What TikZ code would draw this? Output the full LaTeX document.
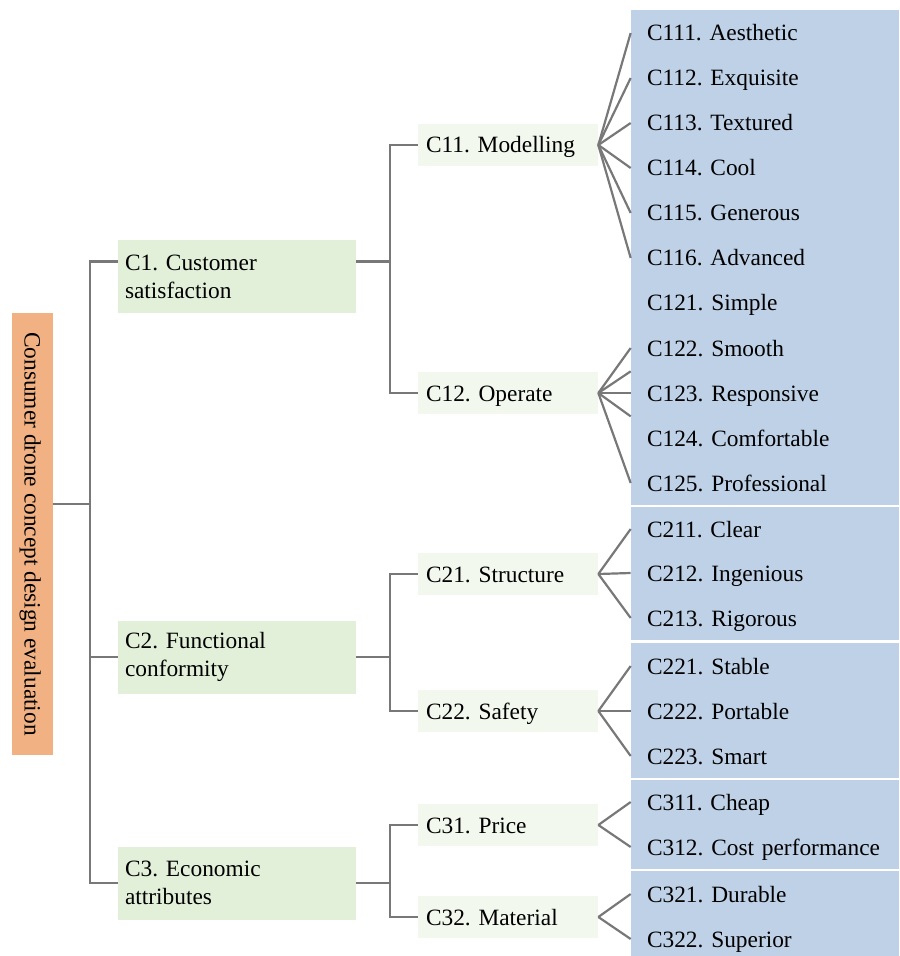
\documentclass[tikz,border=0pt]{standalone}
\usepackage{fontspec}
\setmainfont{Liberation Serif}
\usepackage{tikz}
\usetikzlibrary{positioning}

\definecolor{rootorange}{RGB}{241,177,131}
\definecolor{critgreen}{RGB}{226,240,217}
\definecolor{subgreen}{RGB}{242,248,237}
\definecolor{leafblue}{RGB}{190,209,231}
\definecolor{linkgray}{RGB}{120,120,120}

\frenchspacing

\begin{document}
\begin{tikzpicture}[
  x=0.02cm, y=-0.02cm,
  every node/.style={font=\fontsize{13.3}{16}\selectfont, inner sep=0pt},
  goal/.style={fill=rootorange, minimum width=8.84cm, minimum height=0.82cm, rotate=-90, text height=3.9mm, text depth=0.7mm},
  crit/.style={fill=critgreen, minimum width=4.76cm, minimum height=1.46cm, text width=4.48cm, align=left},
  subcrit/.style={fill=subgreen, minimum width=3.6cm, minimum height=0.84cm, text width=3.28cm, align=left, text height=3.9mm, text depth=0.7mm},
  leaf/.style={fill=leafblue, minimum width=5.36cm, minimum height=0.92cm, text width=4.72cm, align=left, text height=3.9mm, text depth=0.7mm},
  link/.style={draw=linkgray, line width=1.25pt},
  gap/.style={draw=white, line width=1.2pt}
]
\useasboundingbox (0,0) rectangle (899,956);

% Goal
\node[goal] (root) at (32.5,534) {Consumer drone concept design evaluation};

% Criteria
\node[crit] (c1) at (237,276.5) {C1. Customer\\satisfaction};
\node[crit] (c2) at (237,657) {C2. Functional\\conformity};
\node[crit] (c3) at (237,883) {C3. Economic\\attributes};

% Sub-criteria
\node[subcrit] (c11) at (508,145) {C11. Modelling};
\node[subcrit] (c12) at (508,393) {C12. Operate};
\node[subcrit] (c21) at (508,574) {C21. Structure};
\node[subcrit] (c22) at (508,711) {C22. Safety};
\node[subcrit] (c31) at (508,825) {C31. Price};
\node[subcrit] (c32) at (508,917) {C32. Material};

% Indicators
\node[leaf] (l111) at (765,33) {C111. Aesthetic};
\node[leaf] (l112) at (765,78) {C112. Exquisite};
\node[leaf] (l113) at (765,123) {C113. Textured};
\node[leaf] (l114) at (765,168) {C114. Cool};
\node[leaf] (l115) at (765,213) {C115. Generous};
\node[leaf] (l116) at (765,258) {C116. Advanced};
\node[leaf] (l121) at (765,303) {C121. Simple};
\node[leaf] (l122) at (765,348) {C122. Smooth};
\node[leaf] (l123) at (765,393) {C123. Responsive};
\node[leaf] (l124) at (765,438) {C124. Comfortable};
\node[leaf] (l125) at (765,483) {C125. Professional};
\node[leaf] (l211) at (765,529) {C211. Clear};
\node[leaf] (l212) at (765,573) {C212. Ingenious};
\node[leaf] (l213) at (765,618) {C213. Rigorous};
\node[leaf] (l221) at (765,666) {C221. Stable};
\node[leaf] (l222) at (765,711) {C222. Portable};
\node[leaf] (l223) at (765,756) {C223. Smart};
\node[leaf] (l311) at (765,802) {C311. Cheap};
\node[leaf] (l312) at (765,847) {C312. Cost performance};
\node[leaf] (l321) at (765,894) {C321. Durable};
\node[leaf] (l322) at (765,939) {C322. Superior};

% white gaps between the groups
\draw[gap] (l125.south west) -- (l125.south east);
\draw[gap] (l213.south west) -- (l213.south east);
\draw[gap] (l223.south west) -- (l223.south east);
\draw[gap] (l312.south west) -- (l312.south east);

% Trunk
\coordinate (j0) at (90,504);
\draw[link] (j0 -| root.north) -- (j0);
\draw[link] (j0) |- ([yshift=0.3cm]c1.west);
\draw[link] (j0) |- (c2.west);
\draw[link] (j0) |- (c3.west);

% Branches
\draw[link] ([yshift=0.3cm]c1.east) -- ++(34,0) coordinate (j1);
\draw[link] (j1) |- (c11.west);
\draw[link] (j1) |- (c12.west);
\draw[link] (c2.east) -- ++(34,0) coordinate (j2);
\draw[link] (j2) |- (c21.west);
\draw[link] (j2) |- (c22.west);
\draw[link] (c3.east) -- ++(34,0) coordinate (j3);
\draw[link] (j3) |- (c31.west);
\draw[link] (j3) |- (c32.west);

% Fans
\foreach \k in {111,...,116} \draw[link] (c11.east) -- (l\k.west);
\draw[link] (c12.east) -- (l122.west);
\draw[link] (c12.east) -- (l122.south west);
\draw[link] (c12.east) -- (l123.west);
\draw[link] (c12.east) -- (l123.south west);
\draw[link] (c12.east) -- (l125.west);
\foreach \k in {211,212,213} \draw[link] (c21.east) -- (l\k.west);
\foreach \k in {221,222,223} \draw[link] (c22.east) -- (l\k.west);
\foreach \k in {311,312} \draw[link] (c31.east) -- (l\k.west);
\foreach \k in {321,322} \draw[link] (c32.east) -- (l\k.west);

\end{tikzpicture}
\end{document}
